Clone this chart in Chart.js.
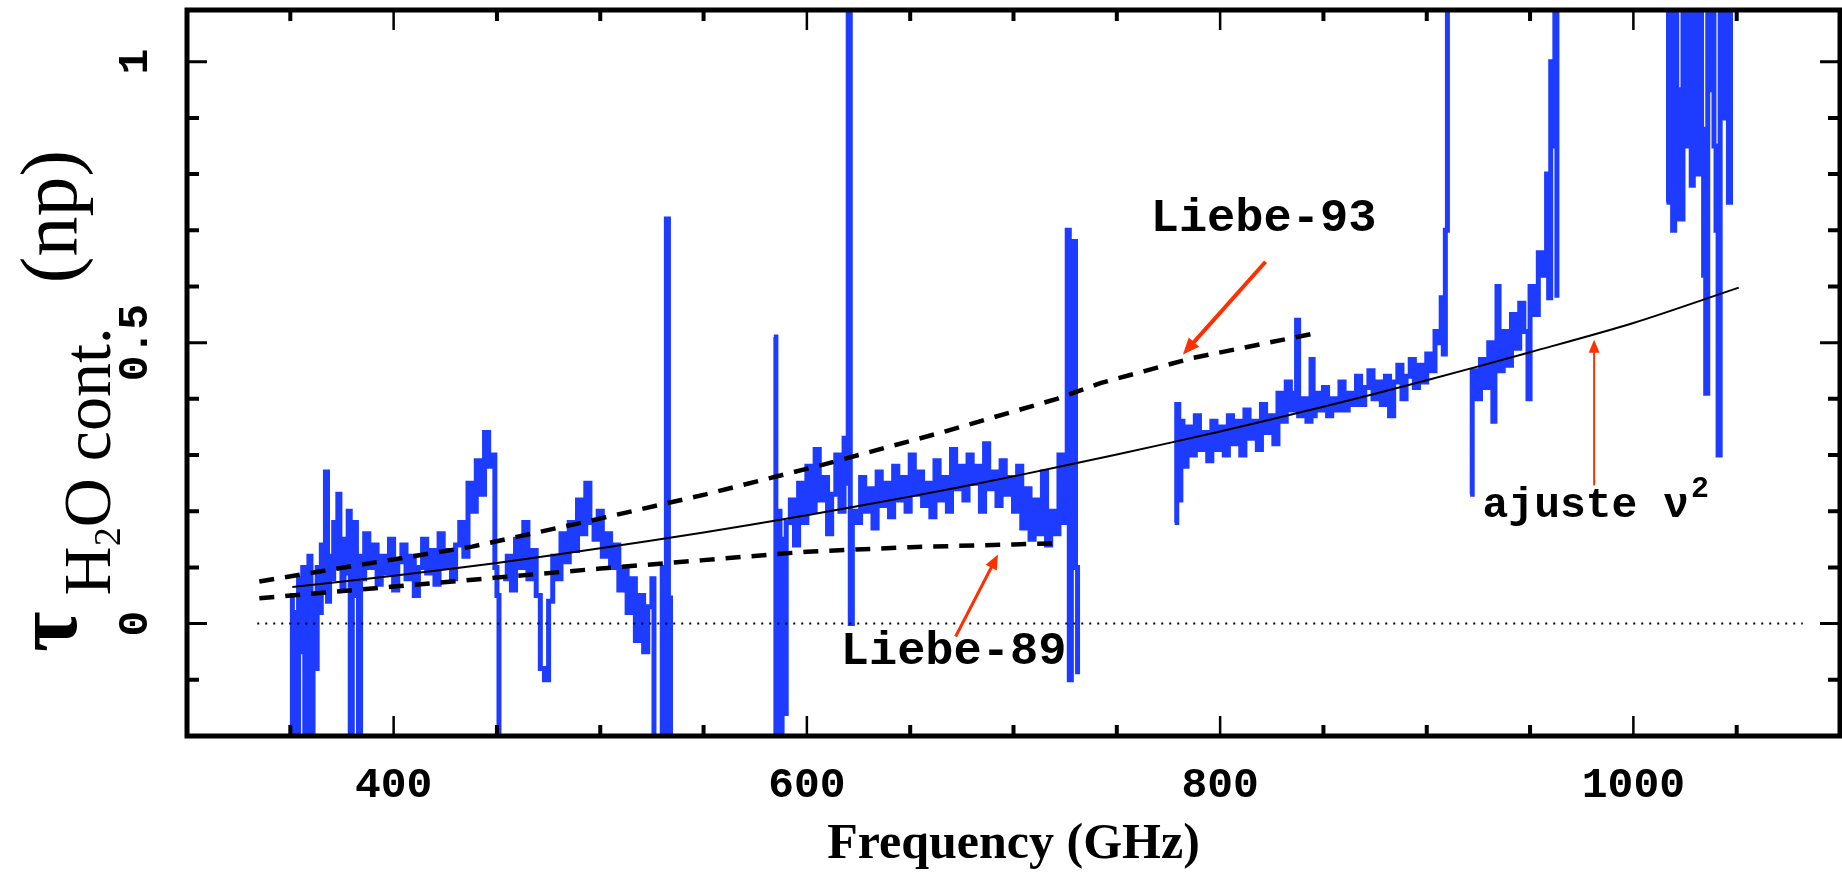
<!DOCTYPE html>
<html>
<head>
<meta charset="utf-8">
<title>H2O continuum opacity</title>
<script src="https://cdn.jsdelivr.net/npm/chart.js@4.4.1/dist/chart.umd.min.js"></script>
<style>
  html, body { margin: 0; padding: 0; background: #fff; }
  #chart { display: block; }
</style>
</head>
<body>
<canvas id="chart" width="1842" height="877"></canvas>
<script>
// tick labels
const xMajorTicks = [400, 600, 800, 1000];
const yMajorTicks = [0, 0.5, 1];

// fitted nu^2 curve
const fitFreq = [351, 400, 450, 500, 550, 600, 650, 700, 750, 800, 850, 900, 950, 1000, 1051];
const fitTau  = [0.065, 0.085, 0.108, 0.134, 0.162, 0.193, 0.226, 0.262, 0.301, 0.342, 0.386, 0.433, 0.483, 0.535, 0.598];

// Liebe models (dashed)
const liebe93Freq = [335, 381, 438, 494, 551, 608, 665, 721, 742, 787, 845];
const liebe93Tau  = [0.075, 0.103, 0.137, 0.182, 0.230, 0.283, 0.340, 0.400, 0.428, 0.473, 0.516];
const liebe89Freq = [335, 400, 450, 500, 550, 600, 650, 700, 721];
const liebe89Tau  = [0.045, 0.066, 0.082, 0.098, 0.113, 0.128, 0.136, 0.141, 0.143];

// zero reference (dotted)
const zeroFreq = [334, 1082];
const zeroTau  = [0, 0];

// measured spectrum, [GHz, tau], one list per atmospheric window
const specSeg1 = [
  [350, 0.05], [351, -0.30], [352, 0.02], [353, -0.30], [354, 0.08], [355, -0.05], [356, 0.10], [357, -0.30],
  [358, -0.10], [359, 0.12], [360, -0.30], [361, 0.05], [362, -0.08], [363, 0.10], [364, 0.02], [365, 0.14],
  [366, 0.06], [367, 0.27], [368, 0.04], [369, 0.12], [370, 0.08], [371, 0.18], [372, 0.10], [373, 0.23],
  [374, 0.12], [375, 0.06], [376, 0.15], [377, 0.09], [378, 0.20], [379, -0.30], [380, 0.10], [381, 0.18],
  [382, 0.05], [383, -0.30], [384, 0.12], [385, 0.08], [386, 0.16], [388, 0.10], [390, 0.14], [392, 0.07],
  [394, 0.12], [396, 0.09], [398, 0.15], [400, 0.06], [402, 0.11], [404, 0.14], [406, 0.08], [408, 0.12],
  [410, 0.05], [412, 0.10], [414, 0.15], [416, 0.09], [418, 0.13], [420, 0.07], [422, 0.16], [424, 0.10],
  [426, 0.13], [428, 0.08], [430, 0.14], [432, 0.18], [434, 0.12], [436, 0.25], [438, 0.20], [440, 0.29],
  [442, 0.23], [444, 0.34], [446, 0.28], [448, 0.30], [449, 0.10], [450, 0.05], [451, -0.30]
];
const specSeg2 = [
  [453, 0.08], [455, 0.12], [457, 0.06], [459, 0.15], [461, 0.10], [463, 0.18], [465, 0.08], [467, 0.13],
  [469, 0.05], [471, -0.08], [473, -0.10], [475, 0.04], [477, 0.12], [479, 0.08], [481, 0.16], [483, 0.11],
  [485, 0.18], [487, 0.13], [489, 0.22], [491, 0.16], [493, 0.25], [495, 0.18], [497, 0.15], [499, 0.20],
  [501, 0.12], [503, 0.16], [505, 0.10], [507, 0.14], [509, 0.06], [511, 0.10], [513, 0.02], [515, 0.08],
  [517, -0.03], [519, 0.05], [521, -0.05], [523, 0.03], [525, 0.08], [526, -0.30], [528, -0.30], [530, 0.10],
  [531, -0.30], [532, 0.72], [533, -0.30], [534, 0.05]
];
const specSeg3 = [
  [584, 0.51], [585, -0.30], [586, 0.20], [587, -0.30], [588, 0.15], [589, -0.16], [590, 0.18], [592, 0.22],
  [594, 0.14], [596, 0.25], [598, 0.18], [600, 0.28], [602, 0.20], [604, 0.31], [606, 0.22], [608, 0.26],
  [610, 0.16], [612, 0.23], [614, 0.30], [616, 0.20], [618, 0.33], [619, 0.25], [620, 1.30], [621, 0.00],
  [622, 0.20], [624, 0.18], [626, 0.26], [628, 0.20], [630, 0.24], [632, 0.17], [634, 0.27], [636, 0.21],
  [638, 0.25], [640, 0.19], [642, 0.28], [644, 0.22], [646, 0.26], [648, 0.20], [650, 0.30], [652, 0.23],
  [654, 0.27], [656, 0.21], [658, 0.25], [660, 0.19], [662, 0.29], [664, 0.22], [666, 0.26], [668, 0.20],
  [670, 0.31], [672, 0.24], [674, 0.28], [676, 0.22], [678, 0.30], [680, 0.25], [682, 0.28], [684, 0.20],
  [686, 0.32], [688, 0.24], [690, 0.27], [692, 0.21], [694, 0.29], [696, 0.23], [698, 0.26], [700, 0.20],
  [702, 0.28], [704, 0.17], [706, 0.24], [708, 0.15], [710, 0.22], [712, 0.16], [714, 0.27], [716, 0.14],
  [718, 0.20], [720, 0.16], [722, 0.30], [724, 0.18], [726, 0.70], [727, -0.10], [728, 0.25], [729, 0.68],
  [730, 0.10], [731, -0.09]
];
const specSeg4 = [
  [778, 0.18], [779, 0.39], [780, 0.22], [781, 0.36], [782, 0.28], [784, 0.35], [786, 0.30], [788, 0.37],
  [790, 0.31], [792, 0.34], [794, 0.29], [796, 0.36], [798, 0.31], [800, 0.35], [802, 0.30], [804, 0.37],
  [806, 0.32], [808, 0.36], [810, 0.30], [812, 0.38], [814, 0.33], [816, 0.36], [818, 0.31], [820, 0.39],
  [822, 0.34], [824, 0.37], [826, 0.32], [828, 0.41], [830, 0.36], [832, 0.43], [834, 0.38], [836, 0.41],
  [837, 0.54], [838, 0.37], [840, 0.40], [842, 0.36], [844, 0.47], [845, 0.37], [846, 0.41], [848, 0.38],
  [850, 0.42], [852, 0.37], [854, 0.40], [856, 0.38], [858, 0.43], [860, 0.38], [862, 0.41], [864, 0.39],
  [866, 0.44], [868, 0.39], [870, 0.42], [872, 0.45], [874, 0.40], [876, 0.43], [878, 0.39], [880, 0.44],
  [882, 0.37], [884, 0.43], [886, 0.46], [888, 0.40], [890, 0.44], [892, 0.47], [894, 0.42], [896, 0.46],
  [898, 0.43], [900, 0.48], [902, 0.45], [904, 0.52], [906, 0.50], [907, 0.58], [908, 0.48], [909, 0.70],
  [910, 1.30]
];
const specSeg5 = [
  [921, 0.23], [922, 0.45], [924, 0.40], [926, 0.47], [928, 0.42], [930, 0.50], [932, 0.36], [933, 0.48],
  [934, 0.60], [935, 0.45], [937, 0.52], [939, 0.46], [941, 0.55], [943, 0.49], [945, 0.57], [947, 0.52],
  [949, 0.40], [950, 0.60], [952, 0.55], [954, 0.66], [956, 0.62], [958, 0.80], [959, 0.58], [960, 1.00],
  [961, 0.85], [962, 1.30], [963, 0.58]
];
const specSeg6 = [
  [1016, 0.75], [1017, 1.30], [1018, 0.90], [1019, 0.70], [1020, 1.30], [1021, 0.95], [1022, 0.72], [1024, 1.30],
  [1025, 0.85], [1026, 1.30], [1027, 0.92], [1028, 0.78], [1029, 1.30], [1030, 1.00], [1031, 0.80], [1032, 1.30],
  [1033, 0.88], [1034, 0.62], [1035, 0.41], [1036, 1.30], [1037, 0.95], [1038, 1.30], [1039, 0.85], [1040, 0.70],
  [1041, 0.30], [1042, 1.30], [1043, 0.90], [1044, 1.30], [1045, 0.95], [1046, 0.75], [1047, 1.30]
];

const BLUE = '#1e3cff';
const RED = '#ff3000';

function pairs(fs, ts) {
  return fs.map((f, i) => ({x: f, y: ts[i]}));
}

// join the windows, with a null between them so the line breaks
var spectrum = [];
[specSeg1, specSeg2, specSeg3, specSeg4, specSeg5, specSeg6].forEach(seg => {
  seg.forEach(p => spectrum.push({x: p[0], y: p[1]}));
  spectrum.push({x: seg[seg.length - 1][0] + 0.5, y: null});
});

function isMajor(list, v) {
  return list.some(m => Math.abs(m - v) < 1e-6);
}

// frame + inward ticks on all four sides
const frameTicks = {
  id: 'frameTicks',
  afterDraw(chart) {
    const ctx = chart.ctx, a = chart.chartArea;
    const sx = chart.scales.x, sy = chart.scales.y;
    ctx.save();
    ctx.strokeStyle = '#000';
    sx.ticks.forEach(t => {
      if (t.value <= sx.min || t.value >= sx.max) return;
      const p = sx.getPixelForValue(t.value);
      const major = isMajor(xMajorTicks, t.value);
      const len = major ? 20 : 11;
      ctx.lineWidth = major ? 2.5 : 4;
      ctx.beginPath();
      ctx.moveTo(p, a.bottom); ctx.lineTo(p, a.bottom - len);
      ctx.moveTo(p, a.top); ctx.lineTo(p, a.top + len);
      ctx.stroke();
    });
    sy.ticks.forEach(t => {
      if (t.value <= sy.min + 1e-6 || t.value >= sy.max - 1e-6) return;
      const p = sy.getPixelForValue(t.value);
      const major = isMajor(yMajorTicks, t.value);
      const len = major ? 20 : 12;
      ctx.lineWidth = major ? 3 : 4;
      ctx.beginPath();
      ctx.moveTo(a.left, p); ctx.lineTo(a.left + len, p);
      ctx.moveTo(a.right, p); ctx.lineTo(a.right - len, p);
      ctx.stroke();
    });
    ctx.lineWidth = 5;
    ctx.strokeRect(a.left, a.top, a.right - a.left, a.bottom - a.top);
    ctx.restore();
  }
};

function arrow(ctx, x0, y0, x1, y1, w, head) {
  const ang = Math.atan2(y1 - y0, x1 - x0);
  ctx.lineWidth = w;
  ctx.beginPath();
  ctx.moveTo(x0, y0);
  ctx.lineTo(x1 - Math.cos(ang) * head * 0.6, y1 - Math.sin(ang) * head * 0.6);
  ctx.stroke();
  ctx.beginPath();
  ctx.moveTo(x1, y1);
  ctx.lineTo(x1 - head * Math.cos(ang - 0.4), y1 - head * Math.sin(ang - 0.4));
  ctx.lineTo(x1 - head * Math.cos(ang + 0.4), y1 - head * Math.sin(ang + 0.4));
  ctx.closePath();
  ctx.fill();
}

// labels and red arrows for the curves
const notes = {
  id: 'notes',
  afterDraw(chart) {
    const ctx = chart.ctx;
    const px = f => chart.scales.x.getPixelForValue(f);
    const py = t => chart.scales.y.getPixelForValue(t);
    ctx.save();
    ctx.strokeStyle = RED;
    ctx.fillStyle = RED;
    arrow(ctx, px(822), py(0.644), px(782), py(0.479), 4, 18);
    arrow(ctx, px(672), py(-0.023), px(692.5), py(0.123), 3, 16);
    arrow(ctx, px(981), py(0.246), px(981), py(0.505), 2, 14);

    ctx.fillStyle = '#000';
    ctx.font = 'bold 47px "Liberation Mono"';
    ctx.textAlign = 'center';
    ctx.textBaseline = 'middle';
    ctx.fillText('Liebe-93', px(821), py(0.72));
    ctx.fillText('Liebe-89', px(671), py(-0.05));

    ctx.textAlign = 'left';
    ctx.textBaseline = 'alphabetic';
    ctx.font = 'bold 43px "Liberation Mono"';
    const x0 = px(927), y0 = py(0.19);
    ctx.fillText('ajuste \u03bd', x0, y0);
    const w = ctx.measureText('ajuste \u03bd').width;
    ctx.font = 'bold 30px "Liberation Mono"';
    ctx.fillText('2', x0 + w + 2, y0 - 20);
    ctx.restore();
  }
};

// rotated y title with subscripts: tau_{H2O cont.} (np)
const yTitle = {
  id: 'yTitle',
  afterDraw(chart) {
    const ctx = chart.ctx;
    ctx.save();
    ctx.translate(76, 652);
    ctx.rotate(-Math.PI / 2);
    ctx.fillStyle = '#000';
    ctx.textBaseline = 'alphabetic';
    ctx.textAlign = 'left';
    let u = 0;
    ctx.font = 'bold 88px "Liberation Serif"';
    ctx.fillText('\u03c4', u, 0);
    u += ctx.measureText('\u03c4').width + 16;
    ctx.font = '68px "Liberation Serif"';
    ctx.fillText('H', u, 34);
    u += ctx.measureText('H').width;
    ctx.font = '38px "Liberation Serif"';
    ctx.fillText('2', u, 44);
    u += ctx.measureText('2').width;
    ctx.font = '68px "Liberation Serif"';
    ctx.fillText('O cont.', u, 34);
    u += ctx.measureText('O cont.').width + 44;
    ctx.font = '80px "Liberation Serif"';
    ctx.fillText('(np)', u, 0);
    ctx.restore();
  }
};

new Chart(document.getElementById('chart'), {
  type: 'line',
  data: {
    datasets: [
      { data: pairs(fitFreq, fitTau), borderColor: '#000', borderWidth: 2, pointRadius: 0, tension: 0.3 },
      { data: pairs(liebe93Freq, liebe93Tau), borderColor: '#000', borderWidth: 4.5, borderDash: [15, 11], pointRadius: 0 },
      { data: pairs(liebe89Freq, liebe89Tau), borderColor: '#000', borderWidth: 4.5, borderDash: [15, 11], pointRadius: 0 },
      { data: pairs(zeroFreq, zeroTau), borderColor: '#000', borderWidth: 2, borderDash: [2, 6], pointRadius: 0 },
      { data: spectrum, borderColor: BLUE, borderWidth: 5, pointRadius: 0, stepped: true, spanGaps: false }
    ]
  },
  options: {
    responsive: false,
    animation: false,
    devicePixelRatio: 1,
    layout: { padding: { top: 10, right: 2, left: 0, bottom: 0 } },
    plugins: { legend: { display: false }, tooltip: { enabled: false } },
    scales: {
      x: {
        type: 'linear', min: 300, max: 1100,
        grid: { display: false, drawTicks: false },
        border: { display: false },
        ticks: {
          stepSize: 50, includeBounds: false, autoSkip: false, maxRotation: 0, padding: 24, color: '#000',
          font: { family: 'Liberation Mono', size: 43, weight: 'bold' },
          callback: v => isMajor(xMajorTicks, v) ? String(v) : ''
        },
        title: {
          display: true, text: 'Frequency (GHz)', color: '#000',
          font: { family: 'Liberation Serif', size: 50, weight: 'bold' },
          padding: { top: 0, bottom: 2 }
        },
        afterFit: s => { s.height = 141; s.paddingLeft = 0; s.paddingRight = 0; }
      },
      y: {
        type: 'linear', min: -0.2, max: 1.092,
        grid: { display: false, drawTicks: false },
        border: { display: false },
        ticks: {
          stepSize: 0.1, includeBounds: false, autoSkip: false, minRotation: 90, maxRotation: 90,
          crossAlign: 'center', padding: 12, color: '#000',
          font: { family: 'Liberation Mono', size: 43, weight: 'bold' },
          callback: v => isMajor(yMajorTicks, v) ? String(Math.round(v * 10) / 10) : ''
        },
        afterFit: s => { s.width = 187; s.paddingTop = 0; s.paddingBottom = 0; }
      }
    }
  },
  plugins: [frameTicks, notes, yTitle]
});
</script>
</body>
</html>
